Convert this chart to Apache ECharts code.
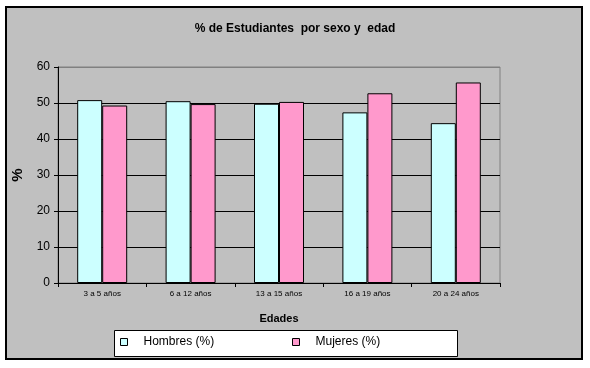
<!DOCTYPE html>
<html>
<head>
<meta charset="utf-8">
<script src="https://cdn.jsdelivr.net/npm/echarts@6/dist/echarts.min.js"></script>
<style>html,body{margin:0;padding:0;background:#fff;}#c{width:590px;height:368px;}</style>
</head>
<body>
<div id="c"></div>
<script>
const categories = ['3 a 5 años', '6 a 12 años', '13 a 15 años', '16 a 19 años', '20 a 24 años'];
const hombres = [50.8, 50.5, 49.8, 47.4, 44.4];
const mujeres = [49.3, 49.7, 50.3, 52.7, 55.7];
const seriesNames = ['Hombres (%)', 'Mujeres (%)'];
const titleText = '% de Estudiantes  por sexo y  edad';

const FONT = '"Liberation Sans", Arial, sans-serif';
const chart = echarts.init(document.getElementById('c'), null, {renderer: 'canvas'});
chart.setOption({
  animation: false,
  backgroundColor: '#ffffff',
  textStyle: {fontFamily: FONT, color: '#000'},
  graphic: [
    {type: 'rect', z: -10, shape: {x: 6, y: 7, width: 576, height: 352},
     style: {fill: '#c0c0c0', stroke: '#000', lineWidth: 2}},
    {type: 'rect', z: -5, shape: {x: 114.5, y: 330.5, width: 343, height: 26},
     style: {fill: '#ffffff', stroke: '#000', lineWidth: 1}}
  ],
  title: {
    text: titleText, left: 'center', top: 18,
    textStyle: {fontFamily: FONT, fontSize: 12, fontWeight: 'bold', color: '#000'}
  },
  legend: [
    {data: [seriesNames[0]], left: 115, top: 336, padding: [0, 0, 0, 5], itemWidth: 7, itemHeight: 7,
     icon: 'rect', itemStyle: {borderColor: '#000', borderWidth: 1},
     textStyle: {fontFamily: FONT, fontSize: 12, color: '#000', padding: [0, 0, 0, 11]}},
    {data: [seriesNames[1]], left: 287, top: 336, padding: [0, 0, 0, 5], itemWidth: 7, itemHeight: 7,
     icon: 'rect', itemStyle: {borderColor: '#000', borderWidth: 1},
     textStyle: {fontFamily: FONT, fontSize: 12, color: '#000', padding: [0, 0, 0, 11]}}
  ],
  grid: {left: 58, top: 67, right: 90, bottom: 85, show: true, borderColor: '#808080', borderWidth: 1, backgroundColor: 'transparent'},
  xAxis: {
    type: 'category', data: categories,
    name: 'Edades', nameLocation: 'middle', nameGap: 30,
    nameTextStyle: {fontFamily: FONT, fontSize: 11, fontWeight: 'bold', color: '#000'},
    axisLine: {lineStyle: {color: '#000', width: 1}},
    axisTick: {show: true, length: 4, lineStyle: {color: '#000'}},
    axisLabel: {fontFamily: FONT, fontSize: 8, color: '#000', margin: 7}
  },
  yAxis: {
    type: 'value', min: 0, max: 60, interval: 10,
    name: '%', nameLocation: 'middle', nameGap: 31, nameRotate: 90,
    nameTextStyle: {fontFamily: FONT, fontSize: 15, fontWeight: 'bold', color: '#000'},
    axisLine: {show: true, lineStyle: {color: '#000', width: 1}},
    axisTick: {show: true, length: 4, lineStyle: {color: '#000'}},
    axisLabel: {fontFamily: FONT, fontSize: 12, color: '#000', margin: 8},
    splitLine: {show: true, lineStyle: {color: ['#000', '#000', '#000', '#000', '#000', '#000', '#808080'], width: 1}}
  },
  series: [
    {name: seriesNames[0], type: 'bar', data: hombres, barWidth: 25, barGap: '0%',
     itemStyle: {color: '#ccffff', borderColor: '#000', borderWidth: 1}},
    {name: seriesNames[1], type: 'bar', data: mujeres, barWidth: 25, barGap: '0%',
     itemStyle: {color: '#ff99cc', borderColor: '#000', borderWidth: 1}}
  ]
});
</script>
</body>
</html>
